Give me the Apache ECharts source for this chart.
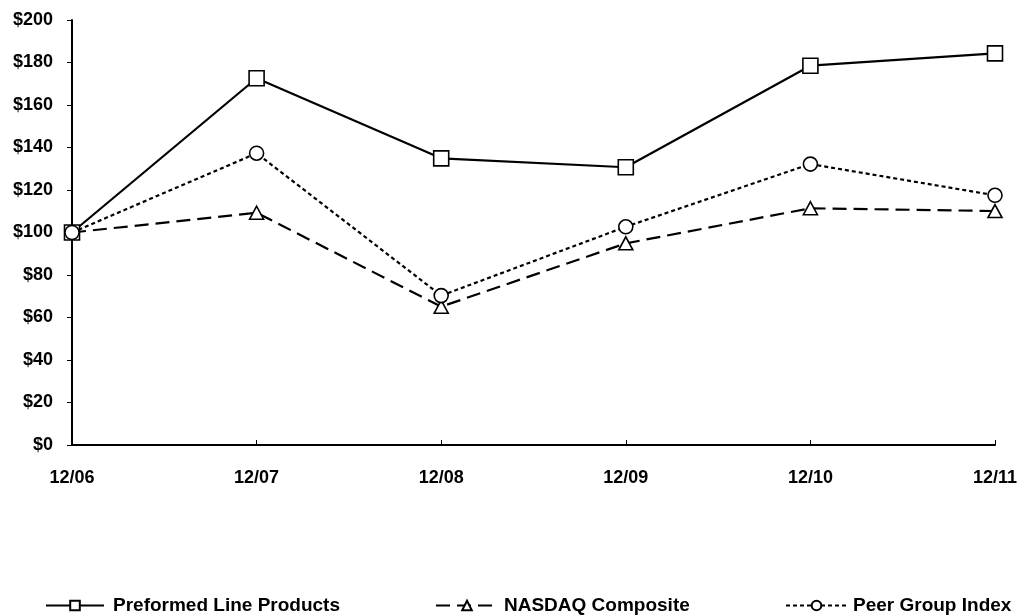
<!DOCTYPE html>
<html><head><meta charset="utf-8">
<script src="https://cdn.jsdelivr.net/npm/echarts@6/dist/echarts.min.js"></script>
<style>html,body{margin:0;padding:0;background:#fff}#c{width:1021px;height:616px}</style>
</head><body><div id="c"></div>
<script>
const categories = ['12/06','12/07','12/08','12/09','12/10','12/11'];
const plp = [100, 172.6, 134.9, 130.7, 178.5, 184.3];
const nasdaq = [100, 109.3, 65.1, 94.9, 111.4, 110.1];
const peer = [100, 137.3, 70.3, 102.7, 132.2, 117.5];
const seriesNames = ['Preformed Line Products', 'NASDAQ Composite', 'Peer Group Index'];

const font = 'Liberation Sans, Arial, sans-serif';
const chart = echarts.init(document.getElementById('c'));
function legend(name, left, w, pad) {
  return {
    data: [name], left: left, top: 596, itemWidth: w, itemHeight: 12, itemGap: 0,
    textStyle: {fontFamily: font, fontSize: 19, fontWeight: 'bold', color: '#000', padding: [0,0,0,pad]},
    padding: 0
  };
}
chart.setOption({
  animation: false,
  backgroundColor: '#fff',
  grid: {left: 72, right: 26, top: 20, bottom: 171},
  legend: [legend(seriesNames[0], 45, 58, 4), legend(seriesNames[1], 435, 62, 1), legend(seriesNames[2], 785, 61, 1)],
  xAxis: {
    type: 'category', data: categories, boundaryGap: false,
    axisLine: {lineStyle: {color: '#000', width: 2}},
    axisTick: {inside: true, length: 5, lineStyle: {color: '#000', width: 1}},
    axisLabel: {margin: 24, fontFamily: font, fontSize: 18, fontWeight: 'bold', color: '#000'},
    splitLine: {show: false}
  },
  yAxis: {
    type: 'value', min: 0, max: 200, interval: 20,
    axisLine: {show: true, lineStyle: {color: '#000', width: 2}},
    axisTick: {show: true, length: 5, lineStyle: {color: '#000', width: 1}},
    axisLabel: {margin: 19, fontFamily: font, fontSize: 18, fontWeight: 'bold', color: '#000', formatter: v => '$' + v},
    splitLine: {show: false}
  },
  series: [
    {name: seriesNames[0], type: 'line', data: plp, symbol: 'rect', symbolSize: 15,
     lineStyle: {color: '#000', width: 2.2, type: 'solid'},
     itemStyle: {color: '#fff', borderColor: '#000', borderWidth: 1.6}, z: 3},
    {name: seriesNames[1], type: 'line', data: nasdaq, symbol: 'triangle', symbolSize: [14, 13],
     lineStyle: {color: '#000', width: 2.2, type: [14, 7]},
     itemStyle: {color: '#fff', borderColor: '#000', borderWidth: 1.6}, z: 2},
    {name: seriesNames[2], type: 'line', data: peer, symbol: 'circle', symbolSize: 14,
     lineStyle: {color: '#000', width: 2.2, type: [4, 3]},
     itemStyle: {color: '#fff', borderColor: '#000', borderWidth: 1.6}, z: 4}
  ]
});
</script></body></html>
